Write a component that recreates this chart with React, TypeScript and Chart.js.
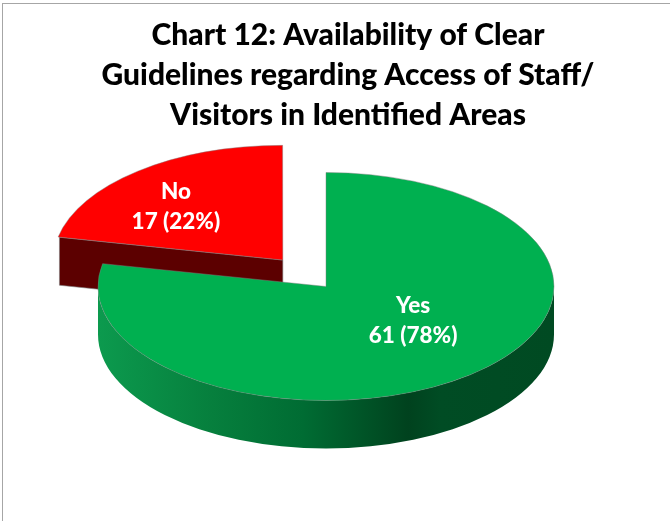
import React, { useEffect, useRef } from "react";
import { Chart, registerables } from "chart.js";

Chart.register(...registerables);

const categories = ["Yes", "No"];
const counts = [61, 17];
const titleLines = [
  "Chart 12: Availability of Clear",
  "Guidelines regarding Access of Staff/",
  "Visitors in Identified Areas",
];
const sliceColors = ["#00B050", "#FF0000"];
const sideColor = "#5C0000";

const SQUISH = 0.5;
const DEPTH = 48;
const SHIFT_X = -22;
const labelPlacement = [
  { fx: 0.382, fy: 0.303 },
  { fx: -0.469, fy: -0.465 },
];

const pie3d = {
  id: "pie3d",
  beforeDatasetsDraw(chart: any) {
    const { ctx } = chart;
    const arcs = chart.getDatasetMeta(0).data;
    ctx.save();
    arcs.forEach((arc: any, i: number) => {
      const off = (arc.options.offset || 0) / 4;
      const mid = (arc.startAngle + arc.endAngle) / 2;
      const ax = arc.x + SHIFT_X + Math.cos(mid) * off;
      const ay = arc.y + Math.sin(mid) * off * SQUISH;
      const r = arc.outerRadius;
      const pt = (a: number) => [ax + r * Math.cos(a), ay + r * SQUISH * Math.sin(a)];
      if (i === 1) {
        const [sx, sy] = pt(arc.startAngle);
        ctx.beginPath();
        ctx.moveTo(sx, sy);
        ctx.lineTo(ax, ay);
        ctx.lineTo(ax, ay + DEPTH);
        ctx.lineTo(sx, sy + DEPTH);
        ctx.closePath();
        ctx.fillStyle = sideColor;
        ctx.fill();
        ctx.strokeStyle = "rgba(128,128,128,0.8)";
        ctx.lineWidth = 0.75;
        ctx.stroke();
      } else {
        const g = ctx.createLinearGradient(ax - r, 0, ax + r, 0);
        g.addColorStop(0, "#0C9A4E");
        g.addColorStop(0.25, "#067F3D");
        g.addColorStop(0.45, "#006C33");
        g.addColorStop(0.68, "#00421E");
        g.addColorStop(0.75, "#004C24");
        g.addColorStop(1, "#004A22");
        ctx.beginPath();
        ctx.ellipse(ax, ay, r, r * SQUISH, 0, 0, Math.PI, false);
        ctx.lineTo(ax - r, ay + DEPTH);
        ctx.ellipse(ax, ay + DEPTH, r, r * SQUISH, 0, Math.PI, 0, true);
        ctx.closePath();
        ctx.fillStyle = g;
        ctx.fill();
      }
    });
    ctx.restore();
  },
  beforeDatasetDraw(chart: any) {
    const { ctx } = chart;
    const cy = chart.getDatasetMeta(0).data[0].y;
    ctx.save();
    ctx.translate(SHIFT_X, cy);
    ctx.scale(1, SQUISH);
    ctx.translate(0, -cy);
  },
  afterDatasetDraw(chart: any) {
    chart.ctx.restore();
  },
  afterDatasetsDraw(chart: any) {
    const { ctx } = chart;
    const arcs = chart.getDatasetMeta(0).data;
    const total = counts.reduce((a, b) => a + b, 0);
    ctx.save();
    ctx.fillStyle = "#FFFFFF";
    ctx.font = "900 22.5px Lato";
    ctx.textAlign = "center";
    ctx.textBaseline = "middle";
    arcs.forEach((arc: any, i: number) => {
      const off = (arc.options.offset || 0) / 4;
      const mid = (arc.startAngle + arc.endAngle) / 2;
      const ax = arc.x + SHIFT_X + Math.cos(mid) * off;
      const ay = arc.y + Math.sin(mid) * off * SQUISH;
      const r = arc.outerRadius;
      const lx = ax + labelPlacement[i].fx * r;
      const ly = ay + labelPlacement[i].fy * r * SQUISH;
      ctx.fillText(categories[i], lx, ly - 15);
      ctx.fillText(`${counts[i]} (${Math.round((counts[i] / total) * 100)}%)`, lx, ly + 15);
    });
    ctx.restore();
  },
};

export default function App() {
  const ref = useRef<HTMLCanvasElement>(null);
  useEffect(() => {
    document.body.style.margin = "0";
    const chart = new Chart(ref.current!, {
      type: "pie",
      data: {
        labels: categories,
        datasets: [
          {
            data: counts,
            backgroundColor: sliceColors,
            borderColor: "rgba(128,128,128,0.8)",
            borderWidth: 0.75,
            offset: [0, 273],
            clip: false,
          } as any,
        ],
      },
      options: {
        responsive: false,
        animation: false,
        events: [],
        radius: 228,
        layout: { padding: { left: 26, right: 0, top: 0, bottom: 83 } },
        plugins: {
          legend: { display: false },
          tooltip: { enabled: false },
          title: {
            display: true,
            text: titleLines,
            color: "#000000",
            font: { family: "Lato", weight: 900, size: 30, lineHeight: 1.333 },
            padding: { top: 15, bottom: 0 },
          },
        },
      } as any,
      plugins: [pie3d],
    });
    return () => chart.destroy();
  }, []);
  return (
    <div style={{ position: "absolute", left: 0, top: 0, width: 670, height: 521, overflow: "hidden", background: "#fff" }}>
      <div style={{ position: "absolute", left: 2, top: 3, width: 668, height: 518, borderLeft: "1px solid #A6A6A6", borderTop: "1px solid #A6A6A6" }} />
      <canvas ref={ref} width={670} height={521} style={{ position: "absolute", left: 0, top: 0 }} />
    </div>
  );
}
